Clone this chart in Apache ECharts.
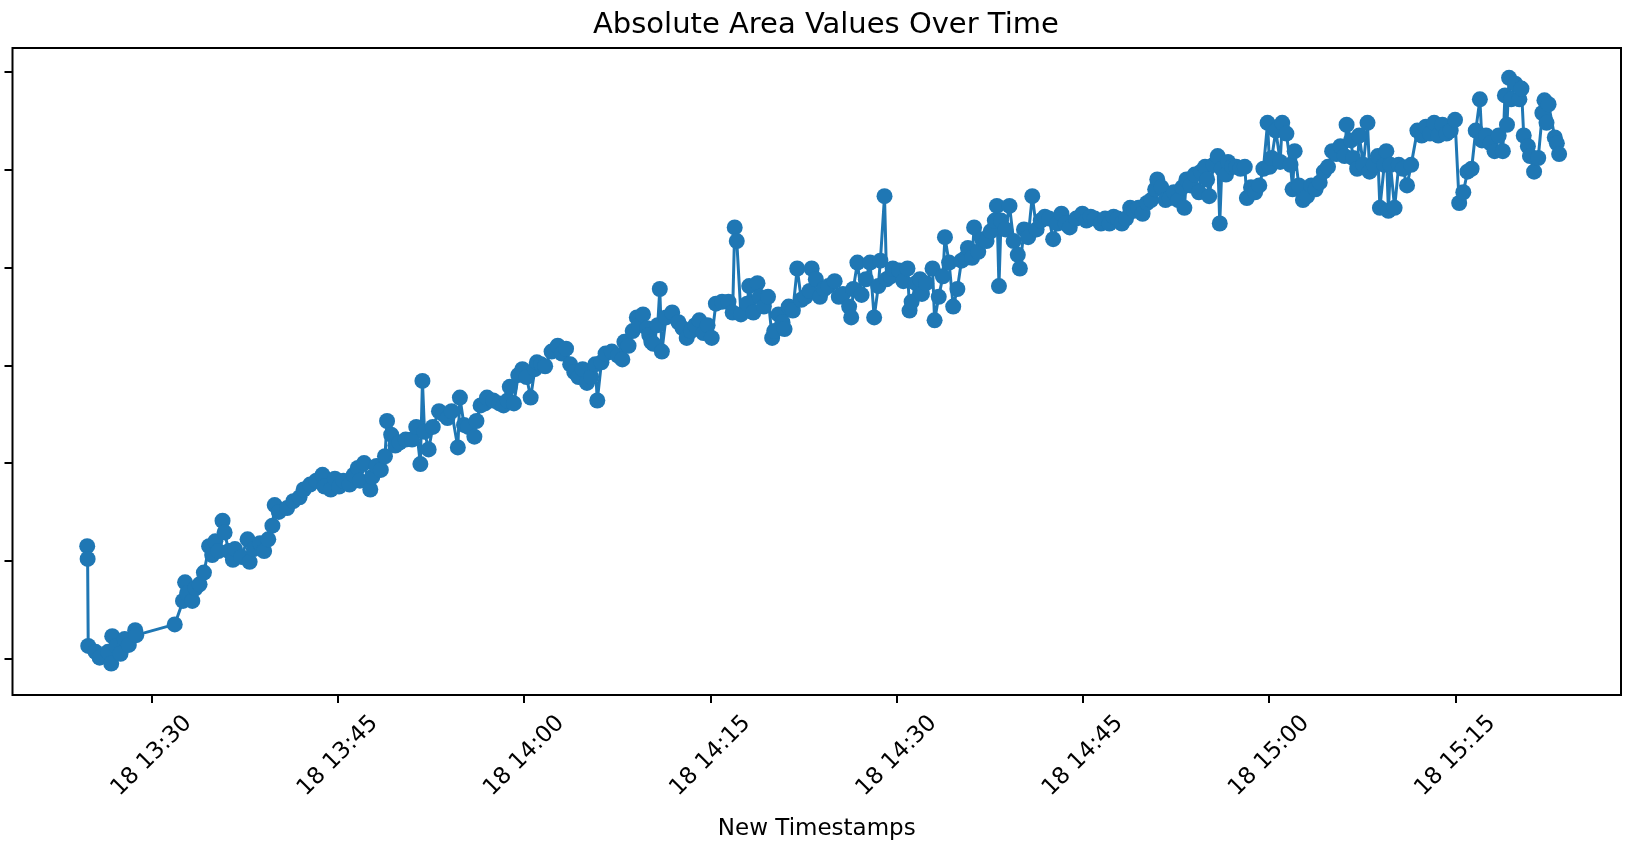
<!DOCTYPE html>
<html>
<head>
<meta charset="utf-8">
<script src="https://cdn.jsdelivr.net/npm/echarts@6/dist/echarts.min.js"></script>
<style>
  html, body { margin: 0; padding: 0; background: #fff; }
  #chart { width: 1631px; height: 843px; }
</style>
</head>
<body>
<div id="chart"></div>
<script>
// ---- data ----
const DAY = [2024, 3, 18];   // year, month, day (tick labels show the day "18")

const times = [
"13:24:48","13:24:50","13:24:53","13:25:28","13:25:48","13:26:29","13:26:44","13:26:49","13:27:09","13:27:29",
"13:27:49","13:28:09","13:28:40","13:28:45","13:31:51","13:32:31","13:32:41","13:32:51","13:33:16","13:33:31",
"13:33:51","13:34:12","13:34:37","13:34:52","13:35:07","13:35:22","13:35:42","13:35:52","13:36:12","13:36:32",
"13:36:42","13:37:13","13:37:43","13:37:53","13:38:13","13:38:43","13:39:03","13:39:23","13:39:43","13:39:54",
"13:40:14","13:40:54","13:41:24","13:41:54","13:42:14","13:42:45","13:43:15","13:43:45","13:43:55","13:44:25",
"13:44:45","13:45:05","13:45:26","13:45:56","13:46:16","13:46:36","13:46:46","13:47:06","13:47:36","13:47:46",
"13:48:06","13:48:27","13:48:47","13:48:57","13:49:17","13:49:37","13:49:57","13:50:27","13:50:58","13:51:18",
"13:51:38","13:51:48","13:51:58","13:52:18","13:52:38","13:53:08","13:53:28","13:53:49","13:54:09","13:54:39",
"13:54:49","13:55:09","13:55:29","13:55:59","13:56:09","13:56:29","13:56:50","13:57:00","13:57:30","13:58:00",
"13:58:20","13:58:40","13:58:50","13:59:10","13:59:31","13:59:51","14:00:11","14:00:31","14:00:51","14:01:01",
"14:01:21","14:01:41","14:02:12","14:02:42","14:03:02","14:03:22","14:03:42","14:04:02","14:04:22","14:04:42",
"14:05:03","14:05:23","14:05:43","14:05:53","14:06:13","14:06:33","14:07:03","14:07:33","14:07:54","14:08:04",
"14:08:24","14:08:44","14:09:04","14:09:14","14:09:34","14:09:54","14:10:04","14:10:14","14:10:24","14:10:45",
"14:10:55","14:11:05","14:11:25","14:11:55","14:12:25","14:12:45","14:13:05","14:13:26","14:13:46","14:14:06",
"14:14:26","14:14:46","14:15:06","14:15:26","14:15:56","14:16:27","14:16:47","14:16:57","14:17:07","14:17:27",
"14:17:57","14:18:07","14:18:27","14:18:47","14:18:58","14:19:18","14:19:38","14:19:58","14:20:08","14:20:28",
"14:20:48","14:20:58","14:21:18","14:21:38","14:21:59","14:22:19","14:22:39","14:22:59","14:23:09","14:23:29",
"14:23:49","14:24:09","14:24:30","14:25:00","14:25:20","14:25:40","14:26:10","14:26:20","14:26:30","14:26:50",
"14:27:10","14:27:31","14:27:51","14:28:11","14:28:31","14:28:41","14:29:01","14:29:11","14:29:31","14:29:41",
"14:30:12","14:30:32","14:30:52","14:31:02","14:31:12","14:31:32","14:31:52","14:32:02","14:32:22","14:32:53",
"14:33:03","14:33:23","14:33:43","14:33:53","14:34:13","14:34:33","14:34:53","14:35:13","14:35:33","14:35:44",
"14:36:04","14:36:14","14:36:34","14:36:54","14:37:14","14:37:34","14:37:54","14:38:04","14:38:14","14:38:24",
"14:38:45","14:39:05","14:39:25","14:39:45","14:39:55","14:40:15","14:40:35","14:40:55","14:41:16","14:41:36",
"14:41:56","14:42:16","14:42:36","14:42:56","14:43:16","14:43:36","14:43:56","14:44:27","14:44:57","14:45:17",
"14:45:37","14:45:57","14:46:27","14:46:47","14:47:08","14:47:28","14:47:48","14:48:08","14:48:28","14:48:48",
"14:49:08","14:49:28","14:49:48","14:50:09","14:50:29","14:50:49","14:50:59","14:51:19","14:51:39","14:51:59",
"14:52:19","14:52:40","14:53:00","14:53:10","14:53:20","14:53:40","14:54:00","14:54:20","14:54:30","14:54:50",
"14:55:00","14:55:10","14:55:31","14:55:51","14:56:01","14:56:11","14:56:31","14:56:41","14:57:01","14:57:21",
"14:57:41","14:58:02","14:58:12","14:58:32","14:58:52","14:59:12","14:59:32","14:59:52","15:00:02","15:00:12",
"15:00:32","15:00:53","15:01:03","15:01:23","15:01:43","15:01:53","15:02:03","15:02:23","15:02:43","15:03:03",
"15:03:23","15:03:44","15:04:04","15:04:24","15:04:44","15:05:04","15:05:24","15:05:44","15:06:04","15:06:14",
"15:06:35","15:06:45","15:07:05","15:07:15","15:07:35","15:07:55","15:08:05","15:08:25","15:08:45","15:08:55",
"15:09:16","15:09:26","15:09:36","15:09:46","15:10:06","15:10:26","15:10:46","15:11:06","15:11:26","15:11:56",
"15:12:17","15:12:37","15:12:57","15:13:17","15:13:37","15:13:57","15:14:17","15:14:37","15:14:58","15:15:18",
"15:15:38","15:15:58","15:16:18","15:16:38","15:16:58","15:17:08","15:17:28","15:17:49","15:18:09","15:18:29",
"15:18:49","15:18:59","15:19:09","15:19:19","15:19:29","15:19:49","15:20:09","15:20:19","15:20:30","15:20:50",
"15:21:00","15:21:20","15:21:40","15:22:00","15:22:10","15:22:20","15:22:30","15:23:00","15:23:10","15:23:21"
];

const areaValues = [
115,102,13,7,1,7,-5,23,13,5,
20,14,29,24,35,59,78,67,59,72,
76,88,115,106,120,110,141,129,110,101,
112,104,122,99,112,118,110,122,136,157,
150,154,161,165,173,178,182,188,176,173,
184,176,182,178,188,195,182,200,173,186,
197,193,207,243,229,218,221,224,224,237,
199,284,232,214,237,253,250,246,253,216,
267,239,237,227,243,259,261,267,264,261,
259,264,278,261,290,296,288,267,296,303,
301,299,314,320,312,317,301,293,288,296,
282,288,301,264,303,312,314,310,306,324,
320,335,349,341,352,338,331,324,322,341,
378,314,349,354,344,338,328,335,341,346,
333,341,328,363,365,365,354,441,427,352,
363,381,354,384,370,360,370,328,335,352,
344,337,360,356,399,367,370,376,399,388,
370,378,381,386,370,373,360,349,378,405,
372,388,405,349,381,407,473,388,391,399,
397,386,399,356,365,384,388,373,384,399,
346,370,391,431,405,360,378,407,410,420,
410,441,416,429,427,437,448,463,381,448,
439,463,427,413,399,439,431,473,439,448,
452,450,429,445,455,445,441,450,455,448,
452,450,445,450,445,452,450,445,450,461,
458,461,455,466,469,480,490,482,469,471,
477,469,482,461,490,484,495,477,498,503,
490,473,505,514,445,501,495,508,503,503,
501,503,471,482,477,484,501,548,503,512,
540,508,548,537,505,480,519,484,469,473,
484,480,487,498,503,519,516,524,514,546,
530,512,501,535,505,548,498,505,514,461,
505,519,458,505,461,505,501,484,505,540,
535,544,537,548,535,546,537,540,551,466,
477,498,501,540,572,530,535,527,519,535,
519,576,546,594,572,588,572,583,535,524,
514,498,512,558,571,548,567,533,527,516
];

const xTickTimes = ["13:30","13:45","14:00","14:15","14:30","14:45","15:00","15:15"];
const yTickValues = [0, 100, 200, 300, 400, 500, 600];
const xRange = ["13:18:47", "15:28:20"];
const yRange = [-37.2, 624.5];

// ---- build ----
function toMs(hms) {
  const p = hms.split(":").map(Number);
  return new Date(DAY[0], DAY[1] - 1, DAY[2], p[0], p[1], p[2] || 0).getTime();
}
const seriesData = times.map((t, i) => [toMs(t), areaValues[i]]);
const pad = n => (n < 10 ? "0" + n : "" + n);
const xTickMs = xTickTimes.map(toMs);

const chart = echarts.init(document.getElementById("chart"), null, { renderer: "canvas" });
chart.setOption({
  animation: false,
  backgroundColor: "#ffffff",
  title: {
    text: "Absolute Area Values Over Time",
    left: 588,
    top: 6,
    textStyle: { fontFamily: "DejaVu Sans", fontSize: 29, fontWeight: "normal", color: "#000" }
  },
  grid: {
    left: 12.5, right: 10, top: 48, bottom: 148,
    show: true, borderColor: "#000", borderWidth: 2, backgroundColor: "transparent",
    outerBoundsMode: "none"
  },
  xAxis: {
    type: "value",          // timestamps in ms, labelled as "day HH:MM"
    min: toMs(xRange[0]),
    max: toMs(xRange[1]),
    scale: true,
    name: "New Timestamps",
    nameLocation: "middle",
    nameGap: 123,
    nameMoveOverlap: false,
    nameTextStyle: { fontFamily: "DejaVu Sans", fontSize: 23, color: "#000" },
    axisLine: { show: false, onZero: false },
    splitLine: { show: false },
    axisTick: {
      show: true, length: 8, inside: false,
      lineStyle: { color: "#000", width: 2 },
      customValues: xTickMs
    },
    axisLabel: {
      show: true,
      customValues: xTickMs,
      rotate: 45,
      align: "center",
      verticalAlign: "middle",
      margin: 61,
      fontFamily: "DejaVu Sans",
      fontSize: 23,
      color: "#000",
      formatter: function (v) {
        const d = new Date(v);
        return d.getDate() + " " + pad(d.getHours()) + ":" + pad(d.getMinutes());
      }
    }
  },
  yAxis: {
    type: "value",
    min: yRange[0],
    max: yRange[1],
    axisLine: { show: false, onZero: false },
    splitLine: { show: false },
    axisTick: {
      show: true, length: 8, inside: false,
      lineStyle: { color: "#000", width: 2 },
      customValues: yTickValues
    },
    axisLabel: { show: false, customValues: yTickValues }
  },
  series: [{
    type: "line",
    data: seriesData,
    symbol: "circle",
    symbolSize: 16,
    showSymbol: true,
    showAllSymbol: true,
    smooth: false,
    itemStyle: { color: "#1f77b4" },
    lineStyle: { color: "#1f77b4", width: 3 }
  }]
});
</script>
</body>
</html>
